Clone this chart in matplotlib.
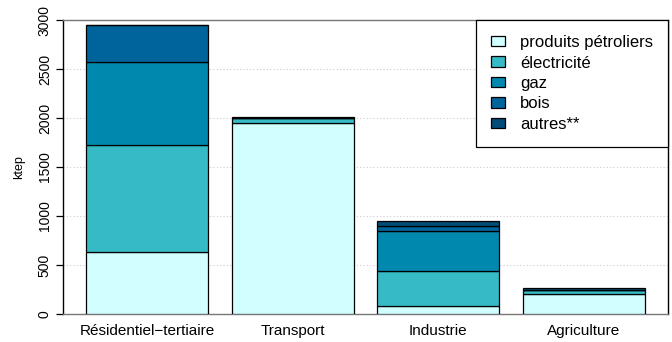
import numpy as np
import matplotlib
matplotlib.use('Agg')
import matplotlib.pyplot as plt

plt.rcParams['font.family'] = ['Liberation Sans', 'DejaVu Sans']

secteurs = ['Résidentiel\u2212tertiaire', 'Transport', 'Industrie', 'Agriculture']
energies = ['produits pétroliers', 'électricité', 'gaz', 'bois', 'autres**']

petrole = [637, 1953, 78, 205]
electricite = [1091, 50, 362, 36]
gaz = [839, 0, 409, 5]
bois = [378, 0, 51, 0]
autres = [0, 12, 54, 16]

COLORS = ['#D1FFFF', '#36BAC6', '#0088AF', '#00649C', '#004B78']

series = [petrole, electricite, gaz, bois, autres]

fig = plt.figure(figsize=(6.72, 3.42), dpi=100)
ax = fig.add_axes([63 / 672, 1 - 314 / 342, 605 / 672, 294 / 342])

x = np.arange(len(secteurs))
bottom = np.zeros(len(secteurs))
for vals, col, lab in zip(series, COLORS, energies):
    ax.bar(x, vals, width=0.837, bottom=bottom, color=col, edgecolor='black',
           linewidth=0.9, label=lab, zorder=3)
    bottom += np.array(vals)

ax.set_xlim(-0.576, 3.576)
ax.set_ylim(0, 3000)
ax.set_yticks(np.arange(0, 3001, 500))
ax.set_yticklabels([str(v) for v in range(0, 3001, 500)], rotation=90,
                   va='center', fontsize=10)
ax.set_xticks(x)
ax.set_xticklabels(secteurs, fontsize=11)
ax.tick_params(axis='x', length=0, pad=7)
ax.tick_params(axis='y', length=5, width=0.9, pad=3)
ax.set_ylabel('ktep', fontsize=9, labelpad=9)

for y in range(500, 3000, 500):
    ax.axhline(y, color='#cccccc', linestyle=(0, (1, 2)), linewidth=0.8, zorder=1)

ax.spines['left'].set_color('black')
ax.spines['right'].set_color('black')
ax.spines['top'].set_color('#777777')
ax.spines['bottom'].set_color('#777777')
for s in ax.spines.values():
    s.set_linewidth(1.0)

leg = ax.legend(loc='upper right', bbox_to_anchor=(1.0, 1.0), fontsize=12,
                frameon=True, fancybox=False, edgecolor='black', framealpha=1,
                handlelength=0.84, handleheight=0.6, handletextpad=0.9,
                labelspacing=0.33, borderpad=0.9, borderaxespad=0)
leg.get_frame().set_linewidth(0.9)

fig.savefig('out.png', dpi=100)
